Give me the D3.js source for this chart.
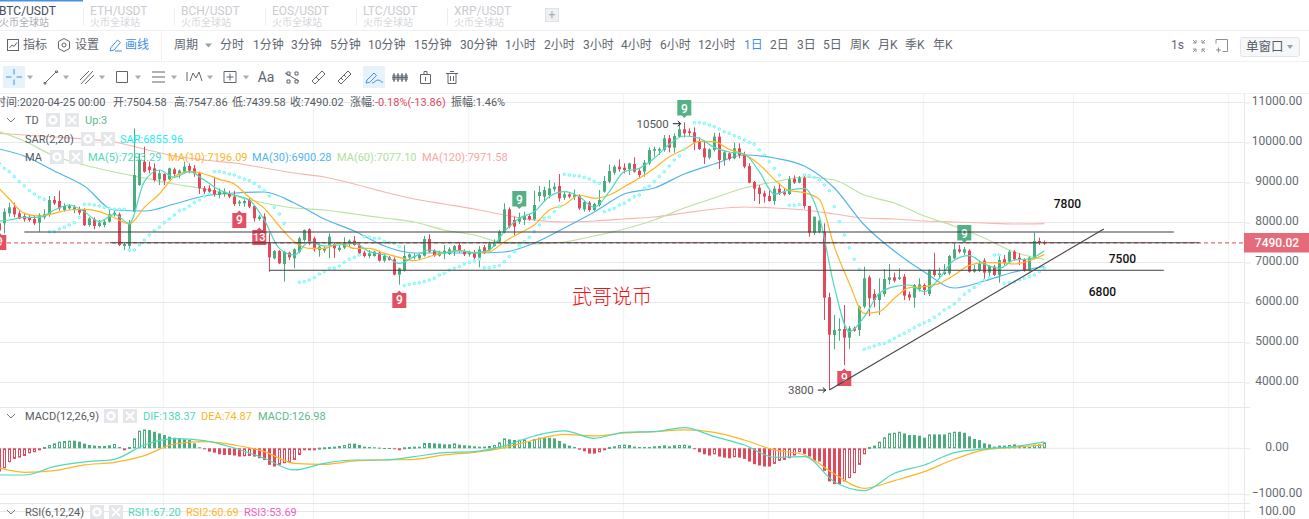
<!DOCTYPE html>
<html>
<head>
<meta charset="utf-8">
<script src="https://cdn.jsdelivr.net/npm/d3@7/dist/d3.min.js"></script>
<style>
html, body { margin: 0; padding: 0; background: #fff; overflow: hidden; }
text { font-family: Roboto, "Noto Sans CJK SC", sans-serif; }
</style>
</head>
<body>
<svg id="chart" width="1309" height="519"></svg>
<script>
// candles, one per day, oldest first
const candleOpen = [
  7980,7979,8229,8379,8229,8162,8129,8087,7996,8129,
  8187,8562,8537,8312,8354,8312,8329,8312,7937,8079,
  7912,7937,8021,8187,8204,7412,7412,8271,8937,9521,
  9396,9354,9079,9212,9079,9329,9212,9271,9412,9354,
  9229,8854,8854,8812,8687,8712,8712,8646,8479,8479,
  8562,8412,8087,8146,7496,7104,7287,6962,7246,7104,
  7271,7562,7829,7604,7312,7296,7437,7462,7312,7371,
  7462,7546,7437,7246,7162,7162,7246,7046,7129,7079,
  6696,6796,7129,7129,7104,7171,7587,7296,7171,7229,
  7212,7271,7437,7287,7204,7229,7121,7379,7312,7412,
  7521,7754,8329,8062,8021,8062,8162,8079,8662,8646,
  8687,8829,8912,8621,8704,8629,8662,8329,8496,8312,
  8437,8771,9021,9246,9396,9371,9329,9462,9296,9271,
  9479,9796,9796,9812,10104,9871,10146,10329,10279,10254,
  10021,9854,9621,9812,10146,9562,9729,9604,9854,9712,
  9412,9012,8871,8729,8662,8537,8846,8754,8712,9096,
  8996,9121,8412,7746,7771,7771,6129,5187,5296,5337,
  5121,5354,5312,5896,6629,6212,6062,6212,6562,6629,
  6587,6646,6204,6121,6329,6437,6212,6812,6687,6712,
  6729,7104,7329,7246,7296,6771,6796,7046,6746,6896,
  6687,7079,7021,7271,7121,7079,6796,7104,7537,7504.58];
const candleHigh = [
  8050,8354,8496,8496,8312,8246,8187,8187,8229,8329,
  8662,8662,8796,8479,8462,8437,8396,8354,8129,8129,
  8062,8062,8354,8312,8246,7496,8062,10354,9729,9896,
  9521,9479,9312,9229,9371,9371,9329,9521,9479,9437,
  9271,8912,8937,9146,8854,8854,8796,8796,8562,8579,
  8604,8437,8187,8229,7729,7312,7312,7296,7271,7354,
  7646,7829,7854,7646,7479,7412,7729,7496,7437,7629,
  7579,7662,7479,7296,7312,7296,7296,7212,7162,7129,
  6871,7429,7229,7229,7229,7662,7704,7329,7296,7437,
  7379,7437,7496,7329,7296,7312,7412,7437,7521,7579,
  7812,8479,8379,8146,8246,8271,8212,8796,8912,8896,
  9062,8996,9212,8771,8746,8829,8704,8562,8537,8496,
  8812,9162,9454,9437,9579,9479,9496,9629,9354,9562,
  9879,9896,9879,10187,10187,10229,10479,10504,10354,10379,
  10129,10046,9854,10246,10246,9812,9754,9996,9979,9771,
  9479,9037,8937,8796,8796,8912,8979,8854,9162,9179,
  9162,9212,8412,8146,8062,7979,6246,5687,5604,5937,
  5412,5396,5921,6896,6679,6329,6604,6837,6962,6746,
  6854,6712,6271,6462,6604,6479,6829,7246,6871,6962,
  7187,7479,7437,7396,7329,6937,7046,7104,6937,6937,
  7187,7187,7312,7312,7229,7104,7146,7746,7621,7547.86];
const candleLow = [
  7750,7729,8146,8129,8079,8021,8021,7937,7771,8079,
  8146,8437,8296,8271,8312,8229,8187,7912,7896,7829,
  7879,7879,7996,8146,7412,7312,7271,8271,8912,9246,
  9229,9021,8937,8937,9062,9146,9104,9229,9229,9146,
  8712,8712,8712,8646,8604,8646,8604,8412,8412,8396,
  8354,8021,8046,7687,6771,7079,6962,6521,7062,6854,
  7229,7521,7437,7271,7146,7246,7104,7121,7271,7337,
  7396,7421,7212,7129,7104,7146,7021,7004,7046,6679,
  6446,6771,7062,7079,7062,7146,7246,7146,7146,7079,
  7187,7162,7246,7162,7146,7079,6879,7212,7271,7396,
  7496,7729,7854,7687,7962,7937,8046,8046,8521,8521,
  8604,8771,8521,8562,8604,8562,8312,8271,8271,8287,
  8396,8746,8979,9187,9271,9229,9187,9246,9129,9146,
  9437,9646,9687,9771,9754,9746,10129,10129,10162,9812,
  9812,9462,9579,9771,9337,9421,9546,9579,9604,9354,
  8979,8537,8462,8496,8521,8437,8687,8671,8687,8962,
  8979,8346,7646,7687,7729,5562,3812,4829,5046,4437,
  4837,5271,5162,5854,5662,5879,5687,6146,6454,6504,
  6562,6062,6046,5871,6271,6187,6162,6646,6604,6687,
  6687,7079,7229,7187,6746,6746,6762,6579,6662,6662,
  6496,6937,6979,7046,6937,6771,6771,7079,7437,7439.58];
const candleClose = [
  7800,8271,8379,8204,8096,8079,8062,7979,8187,8204,
  8562,8479,8354,8412,8412,8379,8246,7937,8104,7912,
  7996,8021,8204,8246,7437,7462,7979,9187,9562,9271,
  9312,9062,9229,9046,9354,9212,9296,9396,9296,9229,
  8854,8771,8771,8712,8771,8771,8646,8462,8521,8537,
  8396,8104,8146,7812,7129,7287,6979,7271,7129,7329,
  7604,7812,7521,7329,7396,7354,7646,7354,7371,7479,
  7546,7437,7229,7162,7229,7271,7046,7162,7062,6696,
  6854,7162,7204,7162,7187,7587,7271,7171,7246,7296,
  7329,7412,7296,7204,7246,7121,7329,7246,7479,7479,
  7771,8329,7896,7896,8129,8162,8079,8437,8762,8812,
  8854,8896,8604,8704,8646,8687,8354,8512,8312,8462,
  8562,9037,9287,9396,9329,9312,9479,9271,9187,9496,
  9812,9837,9837,10104,9871,10162,10329,10229,10237,10004,
  9837,9629,9829,10146,9562,9754,9587,9854,9687,9396,
  8996,8846,8712,8646,8537,8846,8729,8704,9079,8996,
  9121,8412,7746,8146,8046,6121,5196,5312,5337,5121,
  5354,5296,5896,6604,6104,6062,6229,6587,6629,6546,
  6629,6171,6121,6437,6454,6312,6812,6687,6729,6771,
  7162,7329,7271,7329,6771,6837,6979,6746,6912,6687,
  7062,6996,7271,7079,7079,6796,7121,7537,7496,7490.02];

// moving averages are read every 3rd or every 6th candle
const shortMaCandles = d3.range(-1, 210, 3);
const longMaCandles = d3.range(-1, 210, 6);
const ma5 = [8021,8062,8129,8129,8312,8437,8271,8021,8204,7979,9021,9312,9129,9271,9062,8812,8687,8562,8062,7354,7187,7521,7412,
  7437,7479,7271,7187,6979,7146,7312,7246,7296,7246,7312,7771,8104,8271,8646,8771,8646,8379,8771,9271,9354,9604,
  9954,10162,10104,9879,9762,9712,9271,8712,8812,8854,8146,6396,5271,5646,
  6229,6396,6437,6271,6604,7062,7171,6962,6854,7062,7087,7293];
const ma10 = [8979,8587,8229,8162,8229,8312,8329,8271,8120,7962,8379,8712,9146,9271,9212,9079,8962,8629,8354,7912,7521,7354,7354,
  7479,7354,7354,7229,7129,7046,7146,7246,7296,7246,7271,7521,7729,7937,8312,8437,8687,8604,8687,8896,9104,9354,
  9646,9829,10029,10021,9829,9704,9454,9079,8796,8746,8579,7396,6479,5729,
  5771,6104,6371,6396,6479,6687,6929,6996,6996,6962,7046,7196];
const ma30 = [9862,9662,9287,8912,8312,8287,8462,8662,8737,8762,8487,8087,7787,7412,7237,7237,7237,7262,
  7487,7862,8262,8712,8862,9212,9462,9687,9612,9412,8862,7937,7287,6762,6362,6537,6762,6900];
const ma60 = [10312,10037,9662,9437,9262,9112,8962,8837,8662,8487,8362,8312,8212,8112,8012,7812,7687,7487,
  7462,7512,7662,7837,8062,8362,8612,8862,9012,9137,9062,8687,8487,8162,7912,7612,7262,7077];
const ma120 = [10237,10187,10137,10087,10012,9837,9662,9562,9487,9362,9237,9137,8962,8762,8587,8462,8337,8187,
  8062,8012,8037,8087,8137,8237,8337,8387,8362,8312,8212,8112,8087,8037,8012,7987,7962,7971];

// parabolic SAR, one per candle, null where there is no dot
const sarValues = [
  9479,9354,9271,9146,9021,8920,8796,8712,8629,8579,
  7771,7771,7837,7879,7937,7996,8129,8454,8454,8437,
  8412,8379,8354,8329,8329,8329,7312,7312,7437,7562,
  7687,7796,7879,7996,8087,8187,8296,8329,8412,8496,
  8562,8662,8712,9271,9271,9246,9212,9187,9129,9079,
  9046,8979,8896,8796,8662,8379,8212,7979,null,null,
  6504,6521,6562,6621,6712,6771,6854,6854,6912,7004,
  7079,7129,7187,7646,7629,7604,7604,7521,7496,7479,
  7396,6421,6454,6479,6496,6521,6562,6604,6687,6729,
  6812,6854,6896,6962,6996,7046,7079,6871,6871,6896,
  6921,7021,7146,7271,7421,7521,7629,7771,7937,8104,
  8129,8271,8396,9204,9187,9171,9162,9129,9087,9021,
  8979,8271,8312,8354,8437,8479,8562,8646,8687,8854,
  8912,9021,9146,9271,9412,9562,9662,9829,null,10496,
  10496,10479,10437,10396,10337,10271,10229,10171,10121,10062,
  10004,9954,9812,9687,9521,9354,9187,null,8429,8429,
  8446,9187,9171,9129,9062,8937,8796,8396,8021,7687,
  7371,7079,6829,4829,4871,4912,4954,4979,5037,5104,
  5171,5229,5296,5371,5437,5496,5546,5629,5712,5812,
  5879,5962,6079,6204,6296,6379,6479,6562,6629,7187,
  7187,6479,6496,6512,6562,6604,6646,6687,6771,6856];

// MACD histogram, one per candle
const macdBars = [
  -504,-432,-302,-230,-202,-166,-108,-86,-29,29,
  72,108,144,158,166,166,144,101,72,58,
  50,50,65,94,29,-43,29,216,382,410,
  396,360,324,288,252,230,216,194,180,108,
  22,-22,-72,-94,-130,-144,-144,-158,-180,-173,
  -166,-180,-216,-252,-360,-396,-360,-324,-310,-252,
  -144,-36,-22,-14,14,22,29,36,50,72,
  101,101,72,36,29,22,14,7,7,-22,
  -43,22,29,36,36,115,115,108,101,86,
  86,108,79,65,58,43,36,36,50,72,
  130,216,194,180,187,194,144,202,230,230,
  230,216,158,101,58,29,-29,-65,-115,-115,
  -86,-36,29,43,72,79,72,36,29,29,
  29,43,50,65,43,65,72,79,58,-14,
  -86,-130,-158,-130,-180,-202,-216,-194,-202,-230,
  -288,-346,-374,-396,-396,-338,-274,-252,-216,-158,
  -86,-122,-180,-274,-288,-490,-720,-778,-778,-720,
  -648,-540,-360,-130,29,58,144,238,324,338,
  360,324,288,288,274,230,302,302,302,302,
  338,360,360,338,259,202,180,108,86,36,
  58,58,72,86,58,36,29,79,86,127];
const difValues = [-580,-580,-399,-297,-239,72,210,167,7,-217,-471,-326,-254,-254,-181,
  -94,-72,51,268,377,217,348,362,449,254,72,-196,-181,-725,-920,
  -543,-362,-94,-14,36,138];
const deaValues = [-399,-522,-485,-362,-304,-159,94,145,72,-72,-326,-348,-275,-254,-239,
  -145,-87,14,181,304,268,333,362,399,348,181,-36,-145,-558,-870,
  -703,-507,-239,-36,22,75];

const priceTicks = [4000,5000,6000,7000,8000,9000,10000,11000];
const macdTicks = [0,-1000];
const monthCandles = [32.8,62.8,93.8,124.8,153.8,184.8,214.8,245.8];
const lastPrice = 7490.02;

// what the author drew by hand on top: levels, trend line, notes
const levelPrice = [7762,7495,6805];
const levelFrom = [5,22.1,54];
const levelTo = [234.9,240,232.9];
const trendCandle = [166,220.9];
const trendPrice = [3812,7837];
const noteText = ["7800","7500","6800"];
const noteCandle = [210.9,221.9,217.9];
const notePrice = [8362,6987,6175];
const arrowText = ["10500","3800"];
const arrowCandle = [134.7,163.7];
const arrowPrice = [10470,3810];

// TD sequential badges
const tdCandle = [0,48,52,80,104,137,169,193];
const tdPrice = [7537,8087,7662,6087,8587,10862,4137,7737];
const tdLabel = ["9","9","13","9","9","9","9","9"];
const tdRising = [false,false,false,false,true,true,false,true];

const tabNames = ["BTC/USDT","ETH/USDT","BCH/USDT","EOS/USDT","LTC/USDT","XRP/USDT"];
const tabX = [-1,90,181,272,363,454];
const periodNames = ["分时","1分钟","3分钟","5分钟","10分钟","15分钟","30分钟","1小时","2小时","3小时","4小时","6小时","12小时","1日","2日","3日","5日","周K","月K","季K","年K"];
const periodX = [220,253,291,330,368,414,460,505,544,583,621,660,698,744,770,797,823,850,878,905,933];

const green = "#4cac7e", red = "#e2475a", gridColor = "#e6e8eb", softGrid = "#f1f2f4";
const svg = d3.select("#chart");

const x = d3.scaleLinear().domain([0,209]).range([-0.7,1044.3]);
const y = d3.scaleLinear().domain([4000,11000]).range([382.5,102.5]);
const yMacd = d3.scaleLinear().domain([-1000,1000]).range([494.3,402.3]);

// --- page chrome ---
function hline(yy, color) {
  svg.append("line").attr("x1",0).attr("x2",1309).attr("y1",yy).attr("y2",yy).attr("stroke",color||"#eff0f2");
}
function label(parent, xx, yy, str, size, color, anchor) {
  return parent.append("text").attr("x",xx).attr("y",yy).attr("font-size",size)
    .attr("fill",color).attr("text-anchor",anchor||"start").text(str);
}
hline(30.5); hline(61.5); hline(93.5);

svg.append("rect").attr("x",0).attr("y",0).attr("width",83).attr("height",1.5).attr("fill","#4a90e2");
tabNames.forEach((n,i) => {
  const on = i === 0;
  label(svg, tabX[i], 15, n, 12, on ? "#444b55" : "#c9ccd1");
  label(svg, tabX[i], 26, "火币全球站", 10, on ? "#a9adb3" : "#d5d7db");
  if (i > 0) svg.append("line").attr("x1",tabX[i]-6.5).attr("x2",tabX[i]-6.5).attr("y1",8).attr("y2",25).attr("stroke","#eceef0");
});
svg.append("rect").attr("x",545.5).attr("y",8.5).attr("width",13).attr("height",13).attr("fill","#eef0f2").attr("stroke","#e0e2e6");
label(svg, 552, 19, "+", 12, "#a9adb3", "middle");

const dark = "#5f6670", blue = "#3f8fe8";
label(svg, 23, 49, "指标", 12, dark);
svg.append("rect").attr("x",7.5).attr("y",39.5).attr("width",11).attr("height",11).attr("fill","none").attr("stroke",dark);
svg.append("path").attr("d","M9.5 48l2.5-3 2 1.5 3-4").attr("fill","none").attr("stroke",dark);
label(svg, 75, 49, "设置", 12, dark);
svg.append("path").attr("d","M64 38.5l5.5 3v7l-5.5 3-5.5-3v-7z").attr("fill","none").attr("stroke",dark);
svg.append("circle").attr("cx",64).attr("cy",45).attr("r",2).attr("fill","none").attr("stroke",dark);
label(svg, 125, 49, "画线", 12, blue);
svg.append("path").attr("d","M110 51l1-3.5 6.5-7.5 3 2.5-6.5 7.5zM115 51h7").attr("fill","none").attr("stroke",blue);
svg.append("line").attr("x1",161.5).attr("x2",161.5).attr("y1",31).attr("y2",61).attr("stroke","#eff0f2");
label(svg, 174, 49, "周期", 12, dark);
svg.append("path").attr("d","M205 43.5h7l-3.5 4z").attr("fill","#9a9ea5");
periodNames.forEach((n,i) => label(svg, periodX[i], 49, n, 12, n === "1日" ? blue : dark));
label(svg, 1171, 49, "1s", 12, dark);
svg.append("path").attr("d","M1193 40l3 3m0-3v3h-3M1205 40l-3 3m0-3v3h3M1193 52l3-3m0 3v-3h-3M1205 52l-3-3m0 3v-3h3").attr("fill","none").attr("stroke","#8b8f96");
svg.append("path").attr("d","M1216 39.5h11.5v12h-5M1216 39.5v4M1216 50h5m-2.5-2.5v5").attr("fill","none").attr("stroke","#8b8f96");
svg.append("rect").attr("x",1240.5).attr("y",37.5).attr("width",59).attr("height",19).attr("rx",2).attr("fill","#f6f7f9").attr("stroke","#e2e4e8");
label(svg, 1246, 51, "单窗口", 12.5, "#555b64");
svg.append("path").attr("d","M1287 45h6l-3 4z").attr("fill","#9a9ea5");

// drawing tools row
svg.append("rect").attr("x",3).attr("y",66).attr("width",22).attr("height",22).attr("fill","#e6f3fb");
svg.append("rect").attr("x",363).attr("y",66).attr("width",22).attr("height",22).attr("fill","#e6f3fb");
[30,66,102,138,174,210,246].forEach(c => svg.append("path").attr("d",`M${c-3} 75.5h6l-3 4z`).attr("fill","#a9adb3"));
const toolPaths = [
  ["M14 69v5.5m0 5v5.5M6 77h5.5m5 0H22",blue],
  ["M45 83l11-11M44 82.5h2v1.5h-2zM55.5 71h2v1.5h-2z",dark],
  ["M80 80l9-9M85 84l9-9M81 84l12-13",dark],
  ["M116.5 71.5h11v11h-11z",dark],
  ["M152 72h13M152 77h13M152 82h13",dark],
  ["M187 72v9M190 81l3-8 3 5 3-6 3 9",dark],
  ["M224 71.5h12v11h-12zM230 73.5v7m-3.5-3.5h7",dark],
  ["M285 73l14 8M287 72h3v3h-3zM295 80h3v3h-3zM287 80h3v3h-3zM295 72h3v3h-3z",dark],
  ["M312 81l10-10 3 3-10 10zM316 77l3 3",dark],
  ["M338 81l10-10 3 3-10 10zM341 78l2 2M344 75l2 2",dark],
  ["M366 83l1-3 7-7 2.5 2.5-7 7zM372 83c3 0 3-3 6-3s3 3 5 2",blue],
  ["M394 73v9M398 73v9M402 73v9M406 73v9M392.5 77.5h15M393 75h2v5h-2zM397 75h2v5h-2zM401 75h2v5h-2zM405 75h2v5h-2z",dark],
  ["M420.5 74.5h10v9h-10zM424 74.5v-3h3v3M425.5 77v4",dark],
  ["M446 73.5h12M448 73.5v10h8v-10M450 71.5h4M450.5 76v5M453.5 76v5",dark]
];
toolPaths.forEach(p => svg.append("path").attr("d",p[0]).attr("fill","none").attr("stroke",p[1]));
label(svg, 266, 82, "Aa", 14, dark, "middle");

// --- grids and axes ---
svg.append("g").selectAll("line").data(monthCandles).join("line")
  .attr("x1",d => x(d)).attr("x2",d => x(d)).attr("y1",94).attr("y2",519).attr("stroke",softGrid);
svg.append("g").selectAll("line").data(priceTicks).join("line")
  .attr("x1",0).attr("x2",1244).attr("y1",d => y(d)).attr("y2",d => y(d)).attr("stroke",gridColor);
svg.append("g").selectAll("line").data(macdTicks).join("line")
  .attr("x1",0).attr("x2",1244).attr("y1",d => yMacd(d)).attr("y2",d => yMacd(d)).attr("stroke",gridColor);
[407.5,503.5,511.5].forEach(yy => svg.append("line").attr("x1",0).attr("x2",1250).attr("y1",yy).attr("y2",yy).attr("stroke",gridColor));

function drawAxis(scale, ticks) {
  const g = svg.append("g").attr("transform","translate(1244.5,0)")
    .call(d3.axisRight(scale).tickValues(ticks).tickSize(6).tickFormat(d3.format(".2f")));
  g.select(".domain").remove();
  g.selectAll("line").attr("stroke",gridColor);
  g.selectAll("text").attr("x",32.5).attr("dy","0.2em").attr("text-anchor","middle")
    .attr("font-size",12).attr("font-family","Roboto").attr("fill","#666b73");
}
drawAxis(y, priceTicks);
drawAxis(yMacd, macdTicks);
svg.append("line").attr("x1",1244.5).attr("x2",1244.5).attr("y1",94).attr("y2",519).attr("stroke",gridColor);
label(svg, 1277, 515, "100.00", 12, "#666b73", "middle");

// --- main panel ---
svg.append("clipPath").attr("id","mainClip").append("rect").attr("x",0).attr("y",94).attr("width",1244).attr("height",313);
const main = svg.append("g").attr("clip-path","url(#mainClip)");

function maLine(candles, values, scale) {
  const line = d3.line().x((d,i) => x(candles[i])).y(d => (scale||y)(d)).curve(d3.curveMonotoneX);
  return line(values);
}
function drawMa(parent, candles, values, color, scale) {
  parent.append("path").attr("d",maLine(candles,values,scale)).attr("fill","none").attr("stroke",color).attr("stroke-width",1.2);
}
drawMa(main, longMaCandles, ma120, "#f9b4b0");
drawMa(main, longMaCandles, ma60, "#b9e3a2");
drawMa(main, longMaCandles, ma30, "#4fb6ea");

const candleG = main.append("g");
candleOpen.forEach((open,i) => {
  const close = candleClose[i], color = close >= open ? green : red;
  const cx = Math.floor(x(i));
  candleG.append("rect").attr("x",cx).attr("width",1)
    .attr("y",y(candleHigh[i])).attr("height",y(candleLow[i]) - y(candleHigh[i])).attr("fill",color);
  const top = y(Math.max(open,close));
  candleG.append("rect").attr("x",cx-1).attr("width",3)
    .attr("y",top).attr("height",Math.max(1,y(Math.min(open,close)) - top)).attr("fill",color);
});

drawMa(main, shortMaCandles, ma10, "#ffb426");
drawMa(main, shortMaCandles, ma5, "#4fd9bb");

main.append("g").selectAll("circle")
  .data(sarValues.map((v,i) => ({v,i})).filter(d => d.v !== null)).join("circle")
  .attr("cx",d => x(d.i)).attr("cy",d => y(d.v)).attr("r",1.3)
  .attr("fill","#c4ffff").attr("stroke","#4ff0f0").attr("stroke-width",0.7);

tdCandle.forEach((c,i) => {
  const bx = x(c), by = y(tdPrice[i]), up = tdRising[i], w = 7;
  const d = up
    ? `M${bx-w} ${by-8}h${2*w}v15.5h${-w+2.5}l-2.5 2.5-2.5-2.5h${-w+2.5}z`
    : `M${bx-w} ${by-6}h${w-2.5}l2.5-2.5 2.5 2.5h${w-2.5}v15h${-2*w}z`;
  main.append("path").attr("d",d).attr("fill",up ? green : red).attr("opacity",0.95);
  main.append("text").attr("x",bx).attr("y",by+4.5).attr("text-anchor","middle")
    .attr("font-size",tdLabel[i].length > 1 ? 11 : 12).attr("font-weight",500).attr("fill","#fff").text(tdLabel[i]);
});

// last price dashed line
main.append("line").attr("x1",0).attr("x2",1244).attr("y1",y(lastPrice)).attr("y2",y(lastPrice))
  .attr("stroke",red).attr("stroke-dasharray","4 3");

// hand drawn lines
levelPrice.forEach((p,i) => {
  main.append("line").attr("x1",x(levelFrom[i])).attr("x2",x(levelTo[i])).attr("y1",y(p)).attr("y2",y(p))
    .attr("stroke","#3f3f3f").attr("stroke-width",1.1);
});
main.append("line").attr("x1",x(trendCandle[0])).attr("x2",x(trendCandle[1]))
  .attr("y1",y(trendPrice[0])).attr("y2",y(trendPrice[1])).attr("stroke","#444").attr("stroke-width",1.1);
noteText.forEach((t,i) => {
  main.append("text").attr("x",x(noteCandle[i])).attr("y",y(notePrice[i])).attr("font-size",12)
    .attr("font-weight",500).attr("fill","#111").text(t);
});
arrowText.forEach((t,i) => {
  const ax = x(arrowCandle[i]), ay = y(arrowPrice[i]);
  main.append("text").attr("x",ax-4).attr("y",ay+4).attr("text-anchor","end").attr("font-size",11.5).attr("fill","#555").text(t);
  main.append("path").attr("d",`M${ax} ${ay}h8m-3-2.5l3 2.5-3 2.5`).attr("fill","none").attr("stroke","#222");
});
label(main, 572, 304, "武哥说币", 20, "#f01414").attr("font-weight",300);

// price tag on the axis
svg.append("rect").attr("x",1244).attr("y",233).attr("width",65).attr("height",19.5).attr("fill","#e56b7b");
label(svg, 1277, 246.5, "7490.02", 12, "#fff", "middle").attr("font-weight",500);

// --- MACD panel ---
svg.append("clipPath").attr("id","macdClip").append("rect").attr("x",0).attr("y",408).attr("width",1244).attr("height",95);
const macdG = svg.append("g").attr("clip-path","url(#macdClip)");
macdBars.forEach((v,i) => {
  const rising = i > 0 && v > macdBars[i-1];
  const color = v >= 0 ? green : red, cx = Math.floor(x(i));
  const top = yMacd(Math.max(v,0)), h = Math.max(1,Math.abs(yMacd(v) - yMacd(0)));
  if (rising) {
    macdG.append("rect").attr("x",cx-0.5).attr("y",top+0.5).attr("width",2).attr("height",Math.max(h-1,1))
      .attr("fill","#fff").attr("stroke",color);
  } else {
    macdG.append("rect").attr("x",cx-1).attr("y",top).attr("width",3).attr("height",h).attr("fill",color);
  }
});
drawMa(macdG, longMaCandles, deaValues, "#ffb426", yMacd);
drawMa(macdG, longMaCandles, difValues, "#4fd9bb", yMacd);

// --- info row and legends ---
function toolBoxes(x1, x2, yy) {
  [x1,x2].forEach((bx,i) => {
    svg.append("rect").attr("x",bx).attr("y",yy-7).attr("width",14).attr("height",14).attr("fill","#e4e6ea");
    if (i === 0) {
      svg.append("circle").attr("cx",bx+7).attr("cy",yy).attr("r",3.5).attr("fill","none").attr("stroke","#fff").attr("stroke-width",2.4);
    } else {
      svg.append("path").attr("d",`M${bx+3} ${yy-4}l8 8m0-8l-8 8`).attr("stroke","#fff").attr("stroke-width",1.8);
    }
  });
}
function caret(yy) {
  svg.append("path").attr("d",`M7 ${yy-2}l4 4 4-4`).attr("fill","none").attr("stroke","#70757c");
}
const grey = "#555b64", legendSize = 11;
[[-5,"时间:2020-04-25 00:00",grey],[113,"开:7504.58",grey],[174,"高:7547.86",grey],[232,"低:7439.58",grey],
 [290,"收:7490.02",grey],[350,"涨幅:",grey],[375,"-0.18%(-13.86)",red],[451,"振幅:1.46%",grey]]
  .forEach(r => label(svg, r[0], 106, r[1], legendSize, r[2]));

caret(120);
label(svg, 25, 124, "TD", legendSize, grey);
toolBoxes(46, 65, 120);
label(svg, 85, 124, "Up:3", legendSize, "#5cb98c");

label(svg, 25, 143, "SAR(2,20)", legendSize, grey);
toolBoxes(81, 101, 139);
label(svg, 120, 143, "SAR:6855.96", legendSize, "#1ff0f0");

label(svg, 25, 161, "MA", legendSize, grey);
toolBoxes(50, 69, 157);
label(svg, 88, 161, "MA(5):7293.29", legendSize, "#4fd9bb");
label(svg, 168, 161, "MA(10):7196.09", legendSize, "#ffb426");
label(svg, 252, 161, "MA(30):6900.28", legendSize, "#4fb6ea");
label(svg, 337, 161, "MA(60):7077.10", legendSize, "#b0e09a");
label(svg, 422, 161, "MA(120):7971.58", legendSize, "#f9a5a5");

caret(416);
label(svg, 25, 420, "MACD(12,26,9)", legendSize, grey);
toolBoxes(104, 123, 416);
label(svg, 143, 420, "DIF:138.37", legendSize, "#4fd9bb");
label(svg, 201, 420, "DEA:74.87", legendSize, "#ffb426");
label(svg, 258, 420, "MACD:126.98", legendSize, "#5cb98c");

caret(512);
label(svg, 25, 516, "RSI(6,12,24)", legendSize, grey);
toolBoxes(90, 109, 512);
label(svg, 128, 516, "RSI1:67.20", legendSize, "#4fd9bb");
label(svg, 186, 516, "RSI2:60.69", legendSize, "#ffb426");
label(svg, 244, 516, "RSI3:53.69", legendSize, "#ee5fc0");
</script>
</body>
</html>
